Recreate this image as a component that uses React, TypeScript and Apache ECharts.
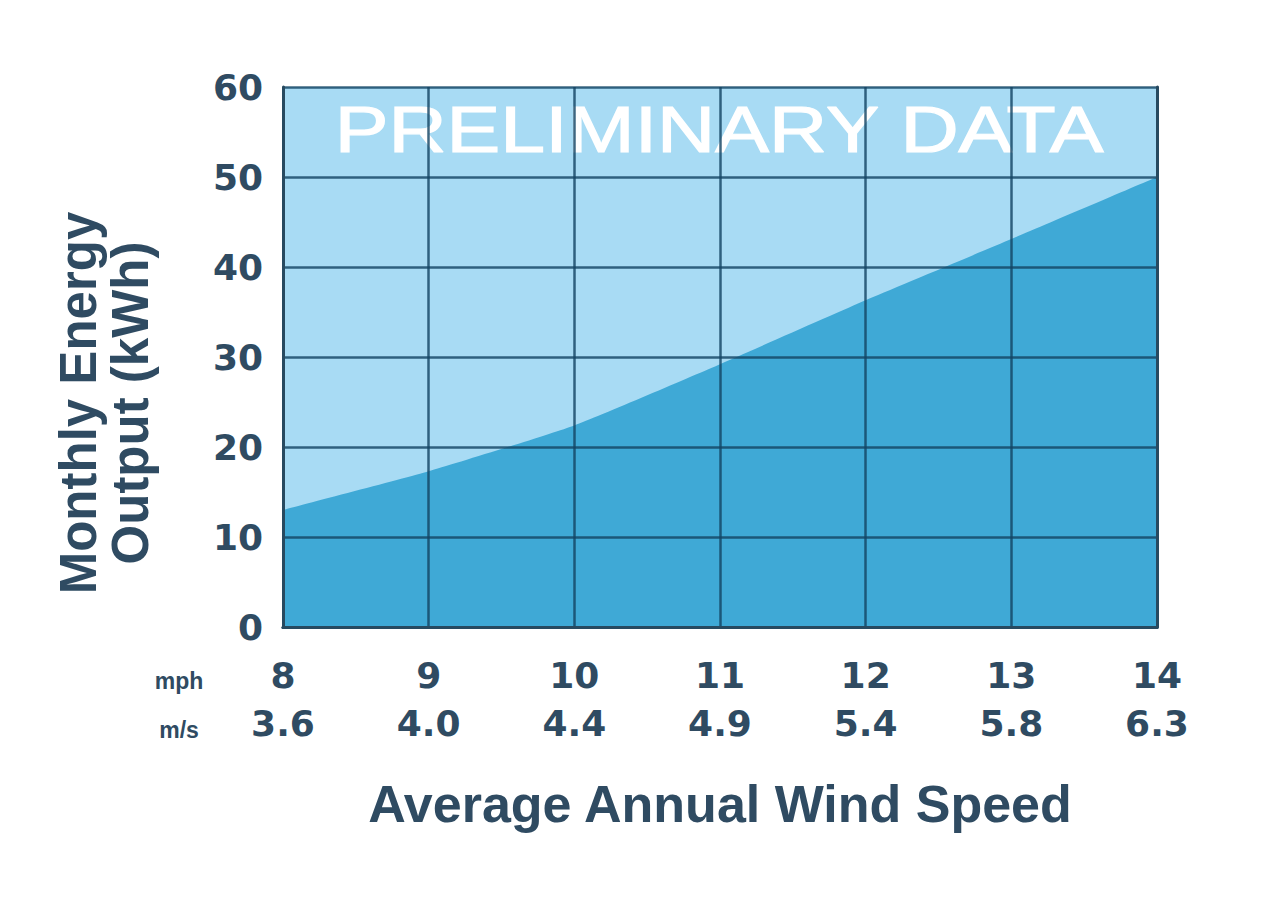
import React, { useEffect, useRef } from "react";
import * as echarts from "echarts";

const mphLabels = ["8", "9", "10", "11", "12", "13", "14"];
const msLabels = ["3.6", "4.0", "4.4", "4.9", "5.4", "5.8", "6.3"];
const energyKWh = [13.0, 17.3, 22.4, 29.2, 36.3, 43.1, 50.0];
const yTicks = { min: 0, max: 60, interval: 10 };

const TEXT = "#2f4b62";
const LIGHT = "#a8dbf4";
const DARK = "#3fa9d6";
const GRIDLINE = "rgba(20,68,100,0.82)";
const BORDER = "#274a60";

export default function App() {
  const ref = useRef<HTMLDivElement>(null);
  useEffect(() => {
    if (!ref.current) return;
    const chart = echarts.init(ref.current, undefined, { renderer: "svg" });
    const tickFont = {
      color: TEXT,
      fontFamily: "DejaVu Sans",
      fontWeight: "bold" as const,
      fontSize: 36,
    };
    chart.setOption({
      animation: false,
      backgroundColor: "#ffffff",
      grid: {
        left: 283,
        right: 123,
        top: 87,
        bottom: 279,
        show: true,
        backgroundColor: LIGHT,
        borderWidth: 0,
      },
      xAxis: [
        {
          type: "category",
          data: mphLabels,
          boundaryGap: false,
          z: 5,
          axisLine: { show: true, lineStyle: { color: BORDER, width: 3 } },
          axisTick: { show: false },
          splitLine: { show: true, lineStyle: { color: GRIDLINE, width: 2.5 } },
          axisLabel: {
            ...tickFont,
            margin: 24,
            lineHeight: 48,
            formatter: (v: string, i: number) => `${v}\n${msLabels[i]}`,
          },
        },
        {
          type: "category",
          data: mphLabels,
          boundaryGap: false,
          position: "top",
          z: 5,
          axisLine: { show: true, lineStyle: { color: BORDER, width: 3 } },
          axisTick: { show: false },
          axisLabel: { show: false },
          splitLine: { show: false },
        },
      ],
      yAxis: [
        {
          type: "value",
          min: yTicks.min,
          max: yTicks.max,
          interval: yTicks.interval,
          z: 5,
          axisLine: { show: true, lineStyle: { color: BORDER, width: 3 } },
          axisTick: { show: false },
          splitLine: { show: true, lineStyle: { color: GRIDLINE, width: 2.5 } },
          axisLabel: { ...tickFont, margin: 20 },
        },
        {
          type: "value",
          min: yTicks.min,
          max: yTicks.max,
          interval: yTicks.interval,
          position: "right",
          z: 5,
          axisLine: { show: true, lineStyle: { color: BORDER, width: 3 } },
          axisTick: { show: false },
          axisLabel: { show: false },
          splitLine: { show: false },
        },
      ],
      series: [
        {
          type: "line",
          data: energyKWh,
          xAxisIndex: 0,
          yAxisIndex: 0,
          smooth: 0.15,
          symbol: "none",
          z: 2,
          lineStyle: { width: 0, color: DARK },
          areaStyle: { color: DARK, opacity: 1 },
        },
      ],
      graphic: [
        {
          type: "text",
          x: 719,
          y: 130,
          scaleX: 1.24,
          z: 3,
          style: {
            text: "PRELIMINARY DATA",
            fill: "#ffffff",
            fontFamily: "Liberation Sans",
            fontSize: 65,
            fontWeight: "normal",
            stroke: "#ffffff",
            lineWidth: 1.2,
            textAlign: "center",
            textVerticalAlign: "middle",
          },
        },
        {
          type: "text",
          x: 104,
          y: 403,
          rotation: Math.PI / 2,
          style: {
            text: "Monthly Energy\nOutput (kWh)",
            fill: TEXT,
            fontFamily: "Liberation Sans",
            fontWeight: "bold",
            fontSize: 51,
            lineHeight: 52,
            textAlign: "center",
            textVerticalAlign: "middle",
          },
        },
        {
          type: "text",
          x: 720,
          y: 804,
          style: {
            text: "Average Annual Wind Speed",
            fill: TEXT,
            fontFamily: "Liberation Sans",
            fontWeight: "bold",
            fontSize: 52,
            textAlign: "center",
            textVerticalAlign: "middle",
          },
        },
        {
          type: "text",
          x: 179,
          y: 681,
          style: {
            text: "mph",
            fill: TEXT,
            fontFamily: "Liberation Sans",
            fontWeight: "bold",
            fontSize: 23,
            textAlign: "center",
            textVerticalAlign: "middle",
          },
        },
        {
          type: "text",
          x: 179,
          y: 730,
          style: {
            text: "m/s",
            fill: TEXT,
            fontFamily: "Liberation Sans",
            fontWeight: "bold",
            fontSize: 23,
            textAlign: "center",
            textVerticalAlign: "middle",
          },
        },
      ],
    });
    return () => chart.dispose();
  }, []);
  return (
    <div
      ref={ref}
      style={{ position: "fixed", left: 0, top: 0, width: 1280, height: 906 }}
    />
  );
}
